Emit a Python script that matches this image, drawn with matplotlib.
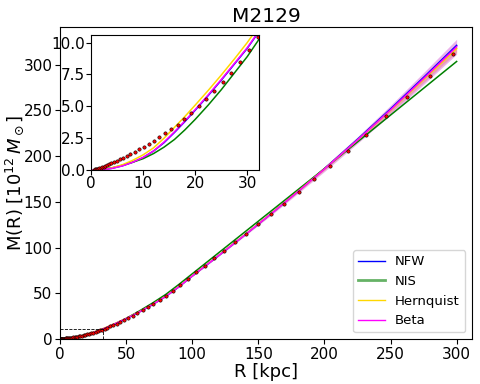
import matplotlib
matplotlib.use("Agg")
import matplotlib.pyplot as plt
import numpy as np
from matplotlib.lines import Line2D

# measured enclosed mass (points)
r_data = [0.5, 0.7, 0.9, 1.1, 1.3, 1.5, 1.8, 2.1, 2.4, 2.7, 3.1, 3.5, 3.9, 4.4, 4.9,
          5.5, 6.1, 6.8, 7.5, 8.4, 9.2, 10.1, 11.1, 12.1, 13.1, 14.2, 15.4, 16.6,
          17.9, 19.2, 20.7, 22.1, 23.7, 25.3, 26.9, 28.6, 30.3, 32.1, 34.0, 35.9,
          37.9, 40.3, 42.9, 45.6, 48.6, 51.7, 55.1, 58.6, 62.4, 66.4, 70.7, 75.3,
          80.1, 85.3, 90.8, 96.6, 102.8, 109.5, 116.5, 124.0, 132.0, 140.6, 149.6,
          159.3, 169.5, 180.5, 192.1, 204.5, 217.7, 231.7, 246.7, 262.6, 279.5, 297.5]
m_data = [0.03, 0.05, 0.07, 0.10, 0.12, 0.15, 0.19, 0.23, 0.28, 0.33, 0.40, 0.47,
          0.54, 0.63, 0.73, 0.85, 0.97, 1.11, 1.26, 1.44, 1.62, 1.83, 2.04, 2.30,
          2.57, 2.88, 3.20, 3.56, 4.00, 4.48, 5.03, 5.58, 6.20, 6.89, 7.65, 8.46,
          9.43, 10.45, 11.5, 12.6, 13.8, 15.2, 16.9, 18.7, 20.8, 23.0, 25.6, 28.3,
          31.4, 34.8, 38.5, 42.7, 47.5, 53.0, 59.2, 65.8, 72.8, 80.4, 88.3, 96.8,
          105.6, 115.2, 125.3, 136.2, 148.0, 160.4, 174.5, 189.6, 205.8, 223.5,
          243.5, 265.0, 287.5, 311.5]

# model profiles
r_model = [0, 2, 4, 6, 8, 10, 12, 14, 16, 18, 20, 22.5, 25, 27.5, 30, 35, 40, 50,
           60, 70, 80, 90, 100, 120, 140, 160, 180, 200, 225, 250, 275, 300]
m_nfw = [0, 0.03, 0.14, 0.34, 0.62, 0.99, 1.5, 2.15, 2.95, 3.8, 4.7, 5.85, 7.05,
         8.3, 9.55, 12.45, 15.6, 22.3, 29.6, 37.7, 46.6, 57.2, 68.8, 91.2, 114.0,
         137.4, 161.5, 186.3, 218.3, 251.5, 286.0, 321.0]
m_nis = [0, 0.05, 0.18, 0.38, 0.62, 0.9, 1.3, 1.8, 2.4, 3.15, 3.98, 5.1, 6.3,
         7.6, 8.9, 11.9, 15.2, 22.5, 30.7, 39.4, 48.8, 59.8, 71.3, 94.3, 117.3,
         140.3, 163.3, 186.3, 215.5, 244.8, 274.1, 303.4]
m_hern = [0, 0.04, 0.18, 0.42, 0.77, 1.2, 1.75, 2.5, 3.35, 4.2, 5.1, 6.25, 7.45,
          8.7, 10.0, 12.9, 16.0, 22.6, 29.8, 37.9, 46.8, 57.5, 69.1, 91.5, 114.3,
          137.6, 161.4, 185.9, 217.4, 250.0, 283.6, 317.5]
m_beta = [0, 0.03, 0.14, 0.33, 0.62, 1.0, 1.5, 2.2, 3.0, 3.85, 4.75, 5.9, 7.1,
          8.35, 9.6, 12.5, 15.65, 22.35, 29.65, 37.75, 46.65, 57.3, 68.9, 91.3,
          114.0, 137.3, 161.2, 185.8, 217.5, 250.5, 284.8, 319.5]
err_beta = [0, 0, 0, 0, 0, 0, 0, 0, 0, 0, 0, 0, 0, 0, 0, 0, 0, 0, 0.1, 0.2, 0.3,
            0.4, 0.5, 0.8, 1.1, 1.5, 2.0, 2.7, 3.7, 5.0, 6.5, 8.2]
err_hern = [0, 0, 0, 0, 0, 0, 0, 0, 0, 0, 0, 0, 0, 0, 0, 0, 0, 0, 0.05, 0.1, 0.15,
            0.2, 0.25, 0.4, 0.55, 0.75, 1.0, 1.4, 1.9, 2.5, 3.2, 4.0]

r_zoom, m_zoom = 32.3, 10.6

rm = np.array(r_model)
fig = plt.figure(figsize=(4.8, 3.84), dpi=100)
ax = fig.add_axes([0.125, 0.117, 0.858, 0.8125])
ins = fig.add_axes([0.19, 0.557, 0.35, 0.352])


def draw(a, lw):
    a.plot(r_model, m_nfw, color="blue", lw=lw)
    a.plot(r_model, m_nis, color="green", lw=lw)
    a.fill_between(rm, np.array(m_hern) - err_hern, np.array(m_hern) + err_hern,
                   color="orange", alpha=0.3, lw=0)
    a.plot(r_model, m_hern, color="gold", lw=lw)
    a.fill_between(rm, np.array(m_beta) - err_beta, np.array(m_beta) + err_beta,
                   color="m", alpha=0.3, lw=0)
    a.plot(r_model, m_beta, color="magenta", lw=lw)
    a.plot(r_data, m_data, "o", ms=2.4, mfc="red", mec="k", mew=0.4, ls="none")


draw(ax, 1.1)
ax.plot([0, r_zoom], [m_zoom, m_zoom], "k--", lw=0.6)
ax.plot([r_zoom, r_zoom], [0, m_zoom], "k--", lw=0.6)
ax.set_xlim(0, 311.5)
ax.set_ylim(0, 341)
ax.set_xticks(range(0, 301, 50))
ax.set_yticks(range(0, 301, 50))
ax.tick_params(labelsize=11, pad=2)
ax.set_xlabel("R [kpc]", fontsize=13, labelpad=1)
ax.set_ylabel(r"M(R) [$10^{12}\,M_\odot$]", fontsize=13)
ax.yaxis.set_label_coords(-0.082, 0.5)
ax.set_title("M2129", fontsize=14.5, pad=4)

handles = [Line2D([], [], color="blue", lw=1),
           Line2D([], [], color="green", lw=2, alpha=0.6),
           Line2D([], [], color="gold", lw=1),
           Line2D([], [], color="magenta", lw=1)]
ax.legend(handles, ["NFW", "NIS", "Hernquist", "Beta"], loc="lower right",
          fontsize=9.5, borderaxespad=0.5)

draw(ins, 1.1)
ins.set_xlim(0, r_zoom)
ins.set_ylim(0, m_zoom)
ins.set_xticks([0, 10, 20, 30])
ins.set_yticks([0, 2.5, 5, 7.5, 10])
ins.set_yticklabels(["0.0", "2.5", "5.0", "7.5", "10.0"])
ins.tick_params(labelsize=11, pad=1)

fig.savefig("out.png", dpi=100)
